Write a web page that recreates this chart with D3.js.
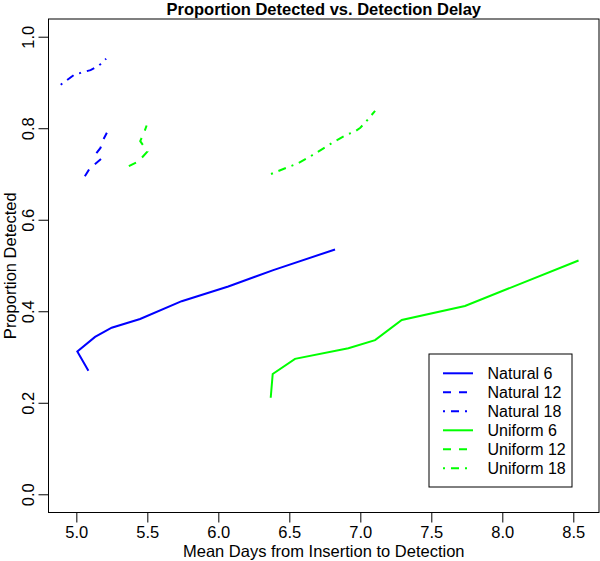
<!DOCTYPE html>
<html><head><meta charset="utf-8">
<script src="https://cdn.jsdelivr.net/npm/d3@7"></script>
<style>body{margin:0;background:#fff}svg{display:block}text{font-family:"Liberation Sans",Arial,Helvetica,sans-serif}</style>
</head><body><div id="chart"></div>
<script>
const xTicks = [5.0,5.5,6.0,6.5,7.0,7.5,8.0,8.5];
const yTicks = [0.0,0.2,0.4,0.6,0.8,1.0];
const seriesNames = ["Natural 6","Natural 12","Natural 18","Uniform 6","Uniform 12","Uniform 18"];
const natural6x = [5.085,5.007,5.132,5.249,5.449,5.742,6.070,6.387,6.822];
const natural6y = [0.270,0.312,0.344,0.364,0.383,0.422,0.454,0.490,0.535];
const natural12x = [5.06,5.10,5.125,5.175,5.14,5.17,5.19,5.215];
const natural12y = [0.695,0.715,0.720,0.733,0.745,0.757,0.775,0.790];
const natural18x = [4.89,4.99,5.03,5.10,5.15,5.17,5.21];
const natural18y = [0.895,0.918,0.921,0.927,0.935,0.940,0.952];
const uniform6x = [6.369,6.383,6.540,6.916,7.104,7.292,7.737,8.537];
const uniform6y = [0.211,0.263,0.296,0.319,0.337,0.381,0.4115,0.511];
const uniform12x = [5.37,5.44,5.50,5.45,5.477,5.495];
const uniform12y = [0.717,0.728,0.749,0.772,0.790,0.806];
const uniform18x = [6.371,6.458,6.552,6.646,6.735,6.817,6.911,6.958,7.00,7.05,7.104];
const uniform18y = [0.700,0.711,0.722,0.738,0.755,0.771,0.787,0.792,0.801,0.818,0.838];
const seriesX = [natural6x,natural12x,natural18x,uniform6x,uniform12x,uniform18x];
const seriesY = [natural6y,natural12y,natural18y,uniform6y,uniform12y,uniform18y];
const seriesColor = ["#0000ff","#0000ff","#0000ff","#00ff00","#00ff00","#00ff00"];
const seriesDash = [null,"8,8","2,6,8,6",null,"8,8","2,6,8,6"];

const W=600,H=561;
const L=48.5,R=599,T=19,B=512.5;
const svg=d3.select("#chart").append("svg").attr("width",W).attr("height",H);
const x=d3.scaleLinear().domain([4.804,8.681]).range([L,R]);
const y=d3.scaleLinear().domain([-0.0398,1.0387]).range([B,T]);

const font=16.5;
// x axis
const xa=svg.append("g").attr("transform",`translate(0,${B})`)
  .call(d3.axisBottom(x).tickValues(xTicks).tickFormat(d3.format(".1f")).tickSize(10).tickPadding(4));
xa.select(".domain").remove();
xa.selectAll("line").attr("stroke","#000");
xa.selectAll("text").attr("font-size",font).attr("fill","#000").attr("font-family",null);
// y axis
const ya=svg.append("g").attr("transform",`translate(${L},0)`)
  .call(d3.axisLeft(y).tickValues(yTicks).tickFormat(d3.format(".1f")).tickSize(10));
ya.select(".domain").remove();
ya.selectAll("line").attr("stroke","#000");
ya.selectAll("text").attr("font-size",font).attr("fill","#000").attr("font-family",null)
  .attr("x",null).attr("dy",null).attr("text-anchor","middle")
  .attr("transform","translate(-14.5,0) rotate(-90)");
// box
svg.append("rect").attr("x",L).attr("y",T).attr("width",R-L).attr("height",B-T)
  .attr("fill","none").attr("stroke","#000").attr("stroke-width",1);

// lines
const line=d3.line().x(d=>x(d[0])).y(d=>y(d[1]));
seriesNames.forEach((n,i)=>{
  const pts=seriesX[i].map((v,j)=>[v,seriesY[i][j]]);
  svg.append("path").datum(pts).attr("d",line).attr("fill","none")
    .attr("stroke",seriesColor[i]).attr("stroke-width",2)
    .attr("stroke-dasharray",seriesDash[i]);
});

// title & labels
svg.append("text").attr("x",(L+R)/2).attr("y",15).attr("text-anchor","middle")
  .attr("font-size",16.5).attr("font-weight","bold").text("Proportion Detected vs. Detection Delay");
svg.append("text").attr("x",(L+R)/2).attr("y",557).attr("text-anchor","middle")
  .attr("font-size",font).text("Mean Days from Insertion to Detection");
svg.append("text").attr("transform",`translate(16,${(T+B)/2}) rotate(-90)`).attr("text-anchor","middle")
  .attr("font-size",font).text("Proportion Detected");

// legend
const lg=svg.append("g");
lg.append("rect").attr("x",429).attr("y",354).attr("width",143).attr("height",133)
  .attr("fill","#fff").attr("stroke","#000").attr("stroke-width",1);
seriesNames.forEach((n,i)=>{
  const cy=373.3+i*19;
  lg.append("line").attr("x1",443).attr("x2",473).attr("y1",cy).attr("y2",cy)
    .attr("stroke",seriesColor[i]).attr("stroke-width",2).attr("stroke-dasharray",seriesDash[i]);
  lg.append("text").attr("x",487.5).attr("y",cy+6).attr("font-size",16).text(n);
});
</script></body></html>
